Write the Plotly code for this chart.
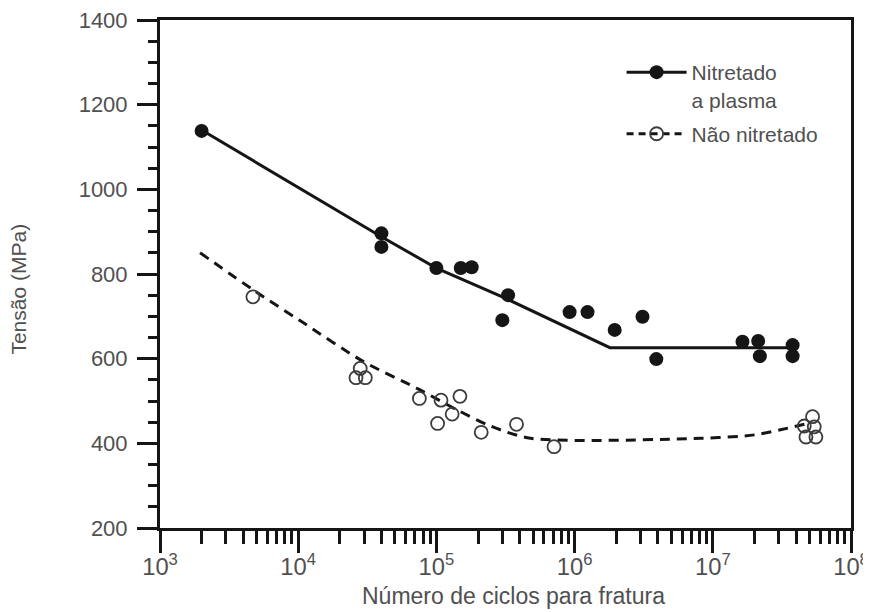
import plotly.graph_objects as go

# ---- data ----
nitr_x = [2000, 4.0e4, 4.0e4, 1.0e5, 1.5e5, 1.8e5, 3.3e5, 3.0e5, 9.2e5, 1.24e6,
          1.95e6, 3.1e6, 3.9e6, 1.64e7, 2.13e7, 2.19e7, 3.78e7, 3.78e7]
nitr_y = [1138, 896, 864, 814, 814, 816, 750, 691, 710, 710,
          668, 699, 599, 640, 642, 606, 632, 606]

nao_x = [4700, 28100, 26200, 30600, 75300, 1.08e5, 1.48e5, 1.30e5, 1.02e5,
         2.11e5, 3.8e5, 7.1e5, 5.27e7, 4.59e7, 5.42e7, 4.72e7, 5.57e7]
nao_y = [746, 577, 555, 555, 506, 502, 511, 469, 447,
         426, 445, 392, 463, 441, 439, 415, 415]

nitr_fit_x = [2000, 5000, 1e4, 2e4, 4e4, 1e5, 3e5, 1.8e6, 4e7]
nitr_fit_y = [1140, 1063, 1004, 945, 888, 814, 746, 626, 626]

nao_fit_x = [1950, 4950, 1.03e4, 2.97e4, 7.24e4, 1.41e5, 2.46e5, 4.8e5, 8.2e6, 2.0e7, 3.5e7, 4.6e7]
nao_fit_y = [850, 758, 690, 593, 530, 479, 441, 412, 412, 420, 436, 445]

legend_names = ["Nitretado<br>a plasma", "Não nitretado"]
x_title = "Número de ciclos para fratura"
y_title = "Tensão (MPa)"

INK = "#151515"
GREY = "#3c3c3c"
TXT = "#505050"
FONT = "Liberation Sans, Arial, Helvetica, sans-serif"

fig = go.Figure()

# fitted curves
fig.add_trace(go.Scatter(x=nitr_fit_x, y=nitr_fit_y, mode="lines",
                         line=dict(color=INK, width=3), showlegend=False, hoverinfo="skip"))
fig.add_trace(go.Scatter(x=nao_fit_x, y=nao_fit_y, mode="lines",
                         line=dict(color=INK, width=3, dash="10px,7px", shape="spline", smoothing=0.8),
                         showlegend=False, hoverinfo="skip"))

# points
fig.add_trace(go.Scatter(x=nitr_x, y=nitr_y, mode="markers",
                         marker=dict(color=INK, size=14, symbol="circle"),
                         showlegend=False))
fig.add_trace(go.Scatter(x=nao_x, y=nao_y, mode="markers",
                         marker=dict(color=GREY, size=13, symbol="circle-open",
                                     line=dict(width=1.8, color=GREY)),
                         showlegend=False))

# legend entries (line + marker)
fig.add_trace(go.Scatter(x=[None], y=[None], mode="lines+markers", name=legend_names[0],
                         legendgroup="a",
                         line=dict(color=INK, width=3),
                         marker=dict(color=INK, size=14, symbol="circle")))
fig.add_trace(go.Scatter(x=[None], y=[None], mode="lines+markers", name=legend_names[1],
                         legendgroup="b",
                         line=dict(color=INK, width=3, dash="7px,5px"),
                         marker=dict(color=GREY, size=13, symbol="circle-open",
                                     line=dict(width=1.8, color=GREY))))

# the page body adds an 8px offset, so the figure is sized to fill the rest
fig.update_layout(
    width=863, height=604,
    margin=dict(l=152, r=20, t=12, b=84, autoexpand=False),
    paper_bgcolor="white", plot_bgcolor="white",
    font=dict(family=FONT, color=TXT),
    legend=dict(x=0.668, y=0.937, xanchor="left", yanchor="top",
                font=dict(size=21, color=TXT, family=FONT),
                bgcolor="rgba(0,0,0,0)", valign="top", itemwidth=60,
                tracegroupgap=4),
    showlegend=True,
)

fig.update_xaxes(
    type="log", range=[3, 8], dtick=1, exponentformat="power", automargin=False,
    ticklabeloverflow="allow",
    showgrid=False, zeroline=False,
    showline=True, linecolor=INK, linewidth=3, mirror=True,
    ticks="outside", ticklen=22, tickwidth=2.5, tickcolor=INK,
    tickfont=dict(size=19, color=TXT, family=FONT), ticklabelstandoff=-6,
    minor=dict(ticks="outside", ticklen=13, tickwidth=2.5, tickcolor=INK, dtick="D1", showgrid=False),
)
fig.update_yaxes(
    range=[200, 1400], dtick=200, automargin=False,
    ticklabeloverflow="allow",
    showgrid=False, zeroline=False,
    showline=True, linecolor=INK, linewidth=3, mirror=True,
    ticks="outside", ticklen=20, tickwidth=2.5, tickcolor=INK,
    tickfont=dict(size=22, color=TXT, family=FONT), ticklabelstandoff=5,
    minor=dict(ticks="outside", ticklen=9, tickwidth=2.5, tickcolor=INK, dtick=50, showgrid=False),
)

fig.add_annotation(text=x_title, xref="paper", yref="paper", x=0.512, y=-0.134,
                   xanchor="center", yanchor="middle", showarrow=False,
                   font=dict(size=23, color=TXT, family=FONT))
fig.add_annotation(text=y_title, xref="paper", yref="paper", x=-0.205, y=0.47,
                   xanchor="center", yanchor="middle", showarrow=False, textangle=-90,
                   font=dict(size=21, color=TXT, family=FONT))

fig.write_html("out.html")
